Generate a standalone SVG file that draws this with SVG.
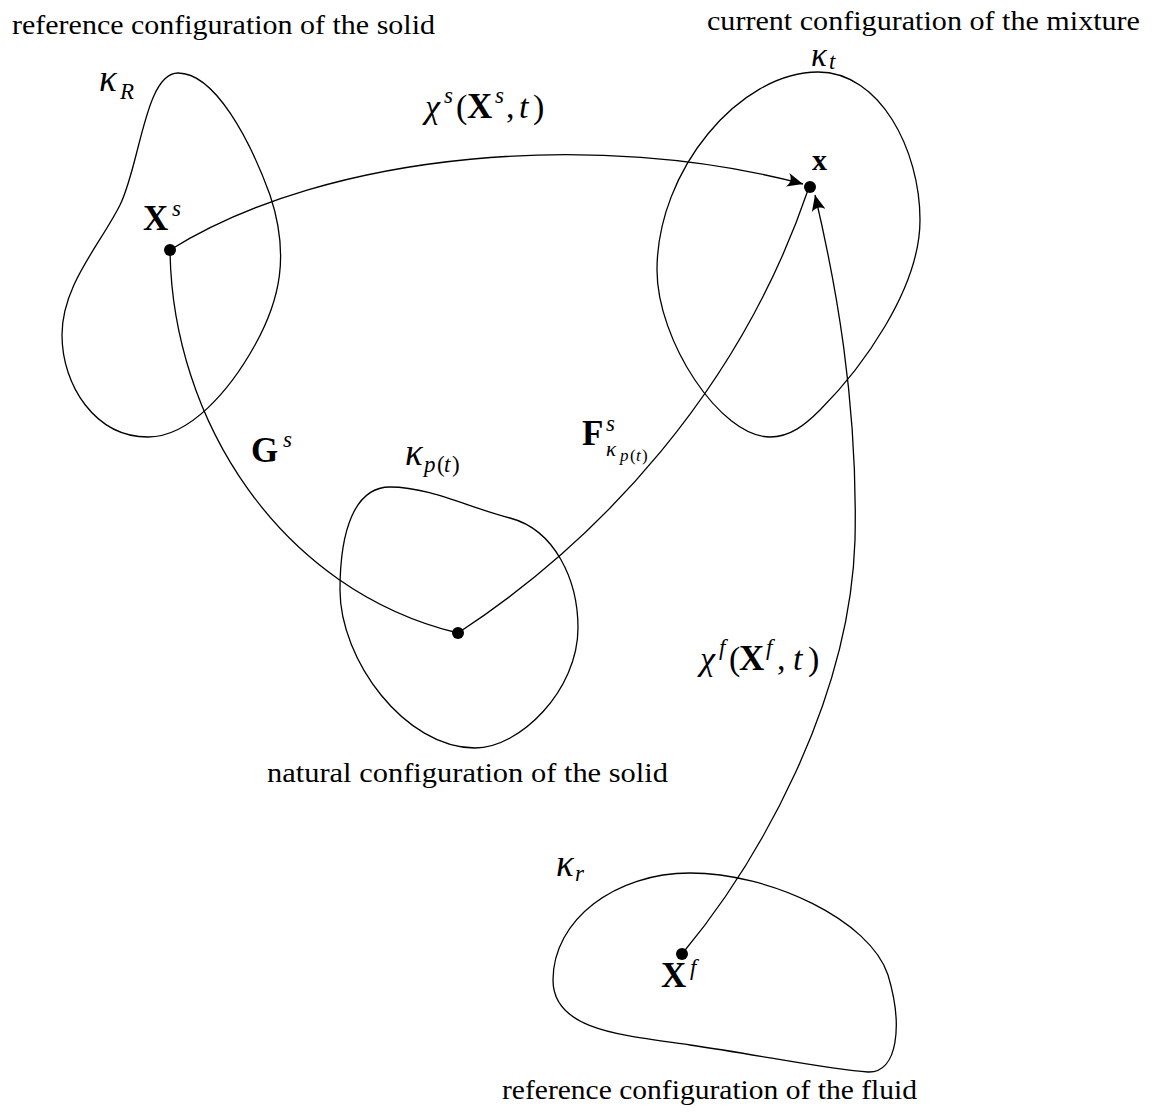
<svg xmlns="http://www.w3.org/2000/svg" width="1161" height="1114" viewBox="0 0 1161 1114">
<defs>
<marker id="arr" markerUnits="userSpaceOnUse" markerWidth="18" markerHeight="14" refX="16" refY="7" orient="auto">
<path d="M0,0 Q6,7 0,14 L16,7 Z" fill="#000"/>
</marker>
</defs>
<style>
.blob{fill:none;stroke:#000;stroke-width:1.3}
.con{fill:none;stroke:#000;stroke-width:1.3}
.cap{font-family:"Liberation Serif",serif;font-size:27px;fill:#000}
.m{font-family:"Liberation Serif",serif;font-size:34px;fill:#000;font-style:italic}
.g{font-size:37px}
.b{font-weight:bold;font-style:normal;font-size:35px}
.sup{font-size:23px}
.ssub{font-size:17px}
.up{font-style:normal}
</style>
<rect width="1161" height="1114" fill="#fff"/>

<g id="kappaR">
<path class="blob" d="M 178,73 C 215,73 250,140 270,195 C 290,255 280,300 255,345 C 230,390 190,437 148,437 C 95,437 62,385 62,335 C 62,285 100,245 120,205 C 140,165 145,73 178,73 Z"/>
<text class="cap" x="12" y="34" textLength="423" lengthAdjust="spacingAndGlyphs">reference configuration of the solid</text>
<text class="m"><tspan class="g" x="99" y="91">κ</tspan><tspan class="sup" x="120" y="99">R</tspan></text>
<circle cx="170" cy="250" r="6"/>
<text class="m"><tspan class="b" x="143" y="230">X</tspan><tspan class="sup" x="172" y="216">s</tspan></text>
</g>

<g id="kappat">
<path class="blob" d="M 818,72 C 880,72 920,150 920,220 C 920,290 860,370 820,410 C 805,425 790,437 770,437 C 720,437 657,340 657,270 C 657,170 740,72 818,72 Z"/>
<text class="cap" x="707" y="30" textLength="433" lengthAdjust="spacingAndGlyphs">current configuration of the mixture</text>
<text class="m" style="font-size:33px"><tspan x="811" y="66">κ</tspan><tspan class="sup" x="829" y="69">t</tspan></text>
<circle cx="810" cy="187" r="6"/>
<text class="m b" x="812" y="170" style="font-size:30px">x</text>
</g>

<g id="kappap">
<path class="blob" d="M 390,487 C 430,487 470,508 510,518 C 555,530 578,580 578,628 C 578,690 520,748 475,748 C 405,748 340,660 340,590 C 340,530 355,487 390,487 Z"/>
<text class="m"><tspan class="g" x="405" y="465">κ</tspan><tspan class="sup" x="424" y="472">p</tspan><tspan class="sup up" x="437" y="472">(</tspan><tspan class="sup" x="444" y="472">t</tspan><tspan class="sup up" x="452" y="472">)</tspan></text>
<circle cx="458" cy="633" r="6"/>
<text class="cap" x="267" y="782" textLength="401" lengthAdjust="spacingAndGlyphs">natural configuration of the solid</text>
</g>

<g id="kappar">
<path class="blob" d="M 690,873 C 770,873 870,920 888,975 C 903,1025 898,1073 868,1072 C 830,1070 760,1055 690,1045 C 620,1035 553,1030 553,980 C 553,920 615,873 690,873 Z"/>
<text class="m"><tspan class="g" x="556" y="876">κ</tspan><tspan class="sup" x="575" y="881">r</tspan></text>
<circle cx="682" cy="954" r="6"/>
<text class="m"><tspan class="b" x="661" y="987">X</tspan><tspan class="sup" x="690" y="975">f</tspan></text>
<text class="cap" x="502" y="1099" textLength="415" lengthAdjust="spacingAndGlyphs">reference configuration of the fluid</text>
</g>

<g id="connectors">
<path class="con" d="M 170,250 C 330,150 600,130 803,184" marker-end="url(#arr)"/>
<path class="con" d="M 170,250 C 172,420 280,590 458,633"/>
<path class="con" d="M 458,633 C 600,540 740,390 808,190"/>
<path class="con" d="M 682,954 C 760,860 850,700 855,540 C 858,400 835,280 815,195" marker-end="url(#arr)"/>
</g>

<g id="labels">
<text class="m"><tspan x="425" y="118">χ</tspan><tspan class="sup" x="444" y="103">s</tspan><tspan class="up" x="456" y="118">(</tspan><tspan class="b" x="467" y="118">X</tspan><tspan class="sup" x="495" y="103">s</tspan><tspan class="up" x="506" y="118">,</tspan><tspan x="519" y="118">t</tspan><tspan class="up" x="533" y="118">)</tspan></text>
<text class="m"><tspan class="b" x="251" y="462">G</tspan><tspan class="sup" x="283" y="447">s</tspan></text>
<text class="m"><tspan class="b" x="582" y="445">F</tspan><tspan class="sup" x="606" y="431">s</tspan><tspan x="606" y="456" style="font-size:21px">κ</tspan><tspan class="ssub" x="620" y="461">p</tspan><tspan class="ssub up" x="630" y="461">(</tspan><tspan class="ssub" x="636" y="461">t</tspan><tspan class="ssub up" x="642" y="461">)</tspan></text>
<text class="m"><tspan x="700" y="670">χ</tspan><tspan class="sup" x="719" y="655">f</tspan><tspan class="up" x="729" y="670">(</tspan><tspan class="b" x="739" y="670">X</tspan><tspan class="sup" x="766" y="655">f</tspan><tspan class="up" x="777" y="670">,</tspan><tspan x="793" y="670">t</tspan><tspan class="up" x="808" y="670">)</tspan></text>
</g>
</svg>
